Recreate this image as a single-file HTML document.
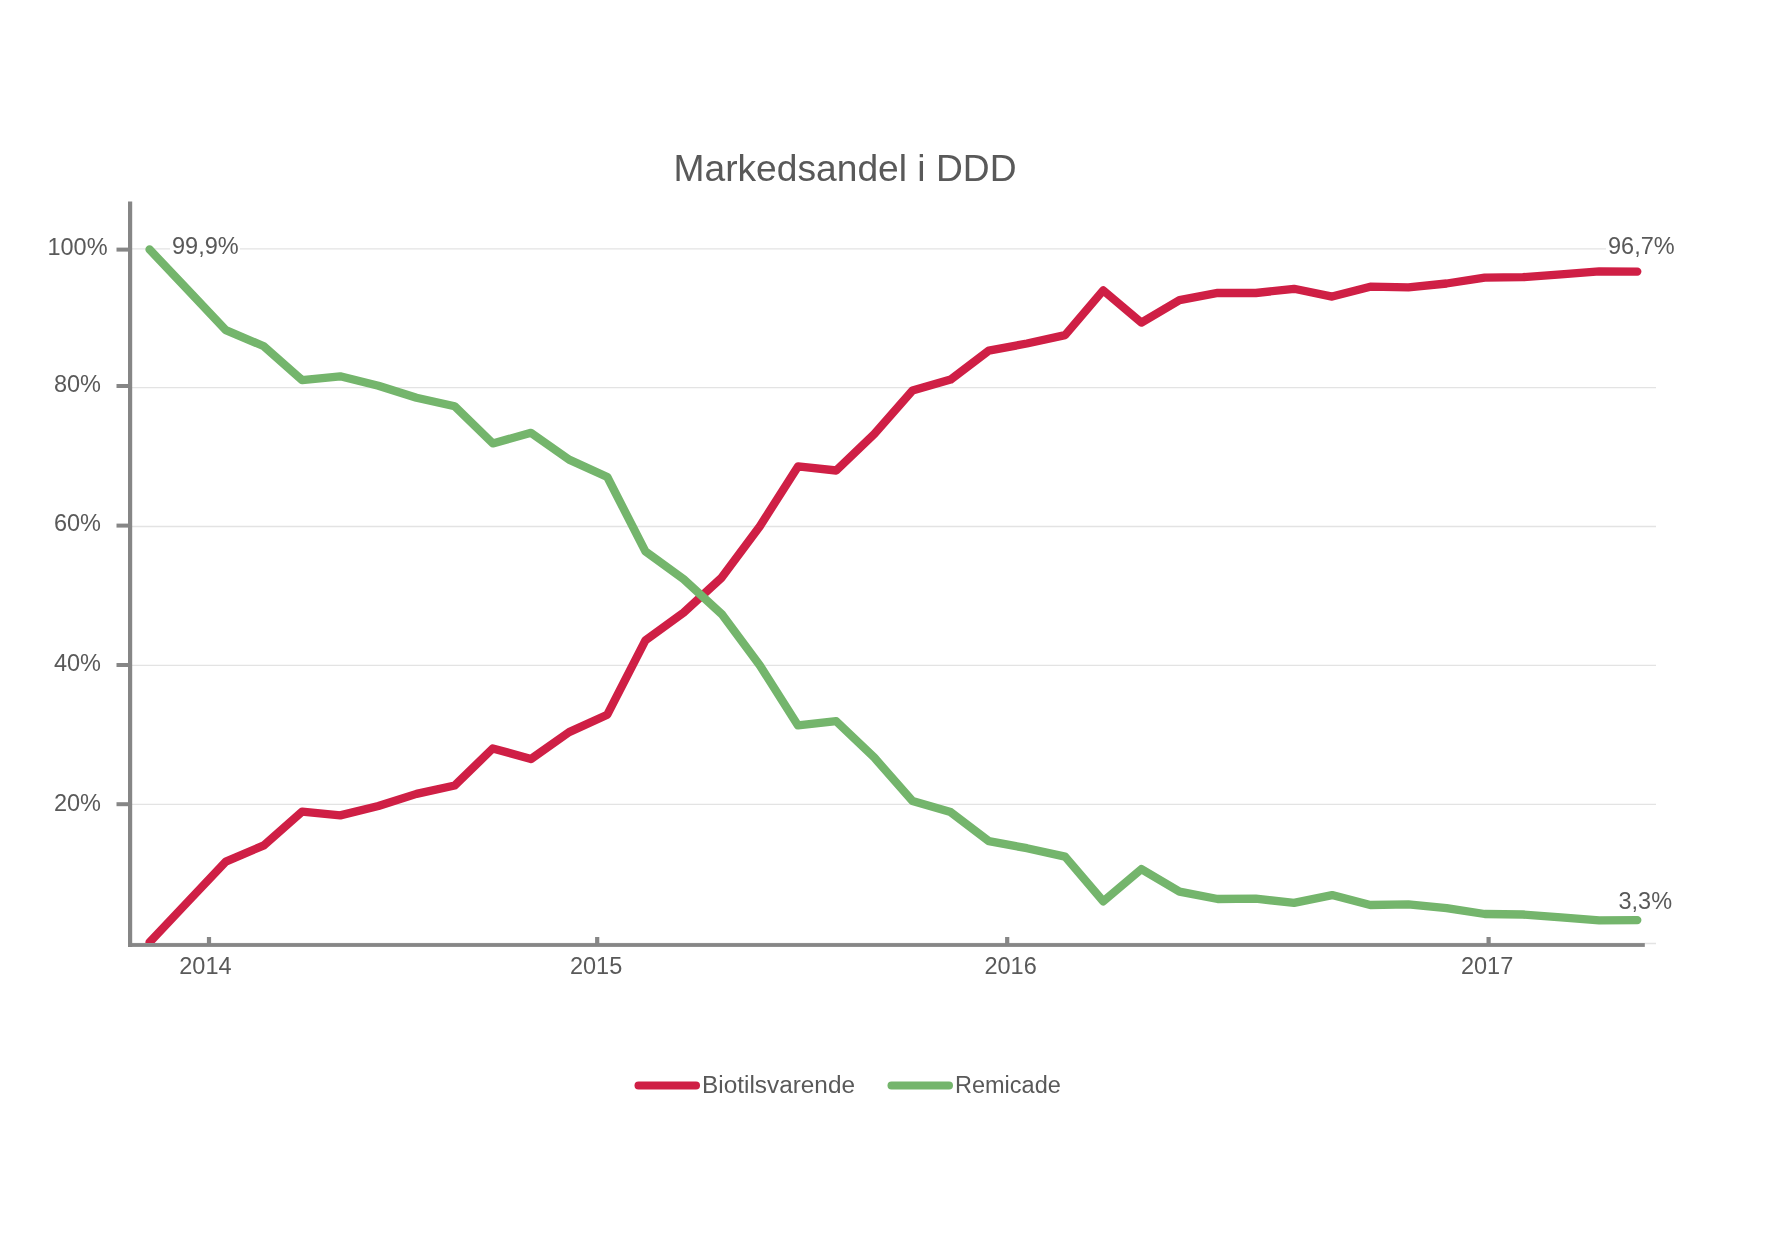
<!DOCTYPE html>
<html><head><meta charset="utf-8"><style>
html,body{margin:0;padding:0;background:#fff;width:1773px;height:1247px;overflow:hidden}
svg{display:block;will-change:transform}
text{font-family:"Liberation Sans",sans-serif}
</style></head><body>
<svg width="1773" height="1247" viewBox="0 0 1773 1247">
<rect width="1773" height="1247" fill="#fff"/>
<line x1="132" y1="248.8" x2="1656" y2="248.8" stroke="#e3e3e3" stroke-width="1.3"/>
<line x1="132" y1="387.6" x2="1656" y2="387.6" stroke="#e3e3e3" stroke-width="1.3"/>
<line x1="132" y1="526.5" x2="1656" y2="526.5" stroke="#e3e3e3" stroke-width="1.3"/>
<line x1="132" y1="665.3" x2="1656" y2="665.3" stroke="#e3e3e3" stroke-width="1.3"/>
<line x1="132" y1="804.3" x2="1656" y2="804.3" stroke="#e3e3e3" stroke-width="1.3"/>
<line x1="132" y1="943.5" x2="1656" y2="943.5" stroke="#e3e3e3" stroke-width="1.3"/>
<line x1="116.5" y1="249.6" x2="132" y2="249.6" stroke="#868686" stroke-width="4"/>
<line x1="116.5" y1="386" x2="132" y2="386" stroke="#868686" stroke-width="4"/>
<line x1="116.5" y1="525.6" x2="132" y2="525.6" stroke="#868686" stroke-width="4"/>
<line x1="116.5" y1="665" x2="132" y2="665" stroke="#868686" stroke-width="4"/>
<line x1="116.5" y1="804.2" x2="132" y2="804.2" stroke="#868686" stroke-width="4"/>
<defs><clipPath id="pc"><rect x="132" y="150" width="1600" height="793"/></clipPath></defs>
<polyline clip-path="url(#pc)" points="149.5,942.4 187.6,902.0 225.8,861.6 263.9,845.4 302.1,811.6 340.2,815.4 378.4,806.0 416.5,793.9 454.7,785.5 492.8,748.4 531.0,759.0 569.1,732.1 607.3,714.7 645.4,640.3 683.6,612.6 721.7,577.6 759.9,526.2 798.0,466.4 836.2,470.5 874.3,434.1 912.5,390.6 950.6,379.6 988.8,350.6 1026.9,343.5 1065.1,335.1 1103.2,290.4 1141.4,322.6 1179.5,300.1 1217.7,292.8 1255.8,293.0 1294.0,288.8 1332.1,296.6 1370.3,286.7 1408.4,287.4 1446.6,283.5 1484.7,277.7 1522.9,277.2 1561.0,274.4 1599.2,271.4 1637.3,271.6" fill="none" stroke="#cf1f45" stroke-width="8.3" stroke-linejoin="round" stroke-linecap="round"/>
<polyline clip-path="url(#pc)" points="149.5,249.4 187.6,289.7 225.8,330.1 263.9,346.3 302.1,380.2 340.2,376.3 378.4,385.7 416.5,397.8 454.7,406.2 492.8,443.4 531.0,432.8 569.1,459.6 607.3,477.0 645.4,551.4 683.6,579.1 721.7,614.1 759.9,665.5 798.0,725.4 836.2,721.2 874.3,757.6 912.5,801.1 950.6,812.1 988.8,841.1 1026.9,848.2 1065.1,856.6 1103.2,901.3 1141.4,869.1 1179.5,891.6 1217.7,899.0 1255.8,898.7 1294.0,902.9 1332.1,895.1 1370.3,905.0 1408.4,904.3 1446.6,908.2 1484.7,914.0 1522.9,914.5 1561.0,917.4 1599.2,920.3 1637.3,920.1" fill="none" stroke="#74b56c" stroke-width="8.3" stroke-linejoin="round" stroke-linecap="round"/>
<rect x="128" y="201.5" width="4.2" height="745.5" fill="#868686"/>
<rect x="128" y="943.1" width="1516.8" height="3.8" fill="#868686"/>
<rect x="206.9" y="937" width="4.2" height="8" fill="#868686"/>
<rect x="595.1" y="937" width="4.2" height="8" fill="#868686"/>
<rect x="1005.1" y="937" width="4.2" height="8" fill="#868686"/>
<rect x="1486.5" y="937" width="4.2" height="8" fill="#868686"/>
<text x="673.5" y="180.7" font-size="36.5" fill="#595959" text-anchor="start" textLength="343" lengthAdjust="spacingAndGlyphs">Markedsandel i DDD</text>
<text x="77.5" y="255" font-size="23.5" fill="#595959" text-anchor="middle">100%</text>
<text x="77.5" y="392" font-size="23.5" fill="#595959" text-anchor="middle">80%</text>
<text x="77.5" y="531" font-size="23.5" fill="#595959" text-anchor="middle">60%</text>
<text x="77.5" y="670.7" font-size="23.5" fill="#595959" text-anchor="middle">40%</text>
<text x="77.5" y="811" font-size="23.5" fill="#595959" text-anchor="middle">20%</text>
<text x="205.4" y="974.3" font-size="23.5" fill="#595959" text-anchor="middle">2014</text>
<text x="596.1" y="974.3" font-size="23.5" fill="#595959" text-anchor="middle">2015</text>
<text x="1010.6" y="974.3" font-size="23.5" fill="#595959" text-anchor="middle">2016</text>
<text x="1487.1" y="974.3" font-size="23.5" fill="#595959" text-anchor="middle">2017</text>
<rect x="170" y="236" width="70" height="22" fill="#fff"/>
<text x="172" y="254" font-size="23.5" fill="#595959" text-anchor="start">99,9%</text>
<rect x="1606" y="236" width="70" height="22" fill="#fff"/>
<text x="1608" y="254" font-size="23.5" fill="#595959" text-anchor="start">96,7%</text>
<text x="1618.5" y="908.7" font-size="23.5" fill="#595959" text-anchor="start">3,3%</text>
<line x1="638.5" y1="1085.5" x2="696" y2="1085.5" stroke="#cf1f45" stroke-width="8" stroke-linecap="round"/>
<line x1="891.5" y1="1085.5" x2="949" y2="1085.5" stroke="#74b56c" stroke-width="8" stroke-linecap="round"/>
<text x="702" y="1092.6" font-size="23.5" fill="#595959" text-anchor="start" textLength="153" lengthAdjust="spacingAndGlyphs">Biotilsvarende</text>
<text x="955" y="1092.6" font-size="23.5" fill="#595959" text-anchor="start">Remicade</text>
</svg>
</body></html>
